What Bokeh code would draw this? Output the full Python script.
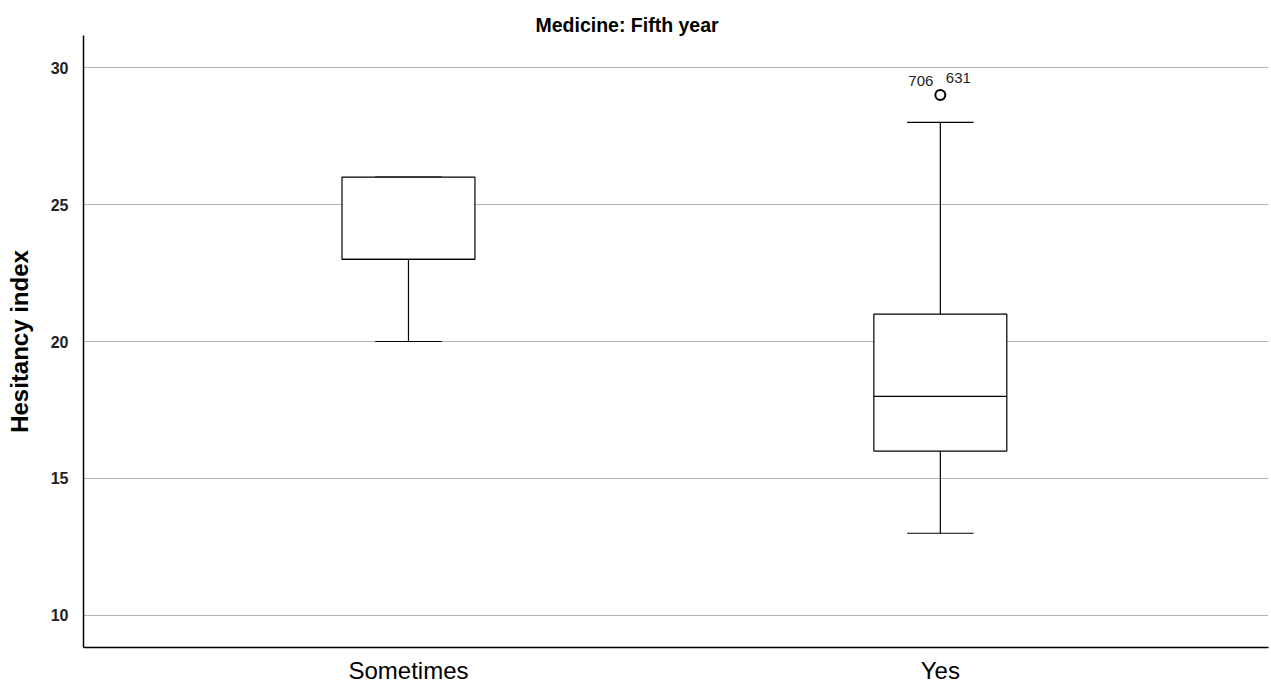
from bokeh.plotting import figure
from bokeh.models import Range1d, FixedTicker, Title
from bokeh.core.properties import value
from bokeh.embed import file_html
from bokeh.resources import INLINE

# Data
categories = ["Sometimes", "Yes"]
positions = [0, 1]
lower_whisker = [20, 13]
q1 = [23, 16]
median = [23, 18]
q3 = [26, 21]
upper_whisker = [26, 28]
outlier_cat = [1, 1]
outlier_vals = [29, 29]
outlier_ids = ["706", "631"]
y_ticks = [10, 15, 20, 25, 30]

FONT = "Liberation Sans"
box_w = 0.25
cap_w = 0.125

p = figure(width=1271, height=689, output_backend="svg", toolbar_location=None,
           x_range=Range1d(-0.611, 1.617), y_range=Range1d(8.83, 31.17),
           min_border_left=83, min_border_right=3, min_border_top=35, min_border_bottom=42)
p.outline_line_color = None
p.background_fill_color = "white"
p.border_fill_color = "white"

t = Title(text="Medicine: Fifth year", align="left", offset=452, text_font=FONT,
          text_font_size="19.5px", text_font_style="bold", text_color="black",
          standoff=0)
p.add_layout(t, "above")

# grid
p.xgrid.grid_line_color = None
p.ygrid.ticker = FixedTicker(ticks=y_ticks)
p.ygrid.grid_line_color = "#b4b4b4"
p.ygrid.grid_line_width = 1

# axes
p.yaxis.ticker = FixedTicker(ticks=y_ticks)
p.yaxis.axis_label = "Hesitancy index"
p.yaxis.axis_label_text_font = FONT
p.yaxis.axis_label_text_font_size = "24px"
p.yaxis.axis_label_text_font_style = "bold"
p.yaxis.axis_label_text_color = "black"
p.yaxis.axis_label_standoff = 15
p.yaxis.major_label_text_font = FONT
p.yaxis.major_label_text_font_size = "16px"
p.yaxis.major_label_text_font_style = "bold"
p.yaxis.major_label_text_color = "#222222"
p.yaxis.major_label_standoff = 9
p.yaxis.major_tick_line_color = None
p.yaxis.minor_tick_line_color = None
p.yaxis.axis_line_color = "black"
p.yaxis.axis_line_width = 1.5

p.xaxis.ticker = FixedTicker(ticks=positions)
p.xaxis.major_label_overrides = {pos: c for pos, c in zip(positions, categories)}
p.xaxis.major_label_text_font = FONT
p.xaxis.major_label_text_font_size = "24px"
p.xaxis.major_label_text_color = "black"
p.xaxis.major_label_standoff = 3
p.xaxis.major_tick_line_color = None
p.xaxis.minor_tick_line_color = None
p.xaxis.axis_line_color = "black"
p.xaxis.axis_line_width = 1.5

# whiskers
p.segment(x0=positions, x1=positions, y0=q3, y1=upper_whisker, line_color="black", line_width=1.2)
p.segment(x0=positions, x1=positions, y0=q1, y1=lower_whisker, line_color="black", line_width=1.2)
# caps
p.segment(x0=[x - cap_w / 2 for x in positions], x1=[x + cap_w / 2 for x in positions],
          y0=upper_whisker, y1=upper_whisker, line_color="black", line_width=1.2)
p.segment(x0=[x - cap_w / 2 for x in positions], x1=[x + cap_w / 2 for x in positions],
          y0=lower_whisker, y1=lower_whisker, line_color="black", line_width=1.2)
# boxes
p.vbar(x=positions, width=box_w, top=q3, bottom=q1, fill_color="white",
       line_color="black", line_width=1.2)
# medians
p.segment(x0=[x - box_w / 2 for x in positions], x1=[x + box_w / 2 for x in positions],
          y0=median, y1=median, line_color="black", line_width=1.2)

# outliers
p.scatter(x=outlier_cat[:1], y=outlier_vals[:1], size=10, marker="circle",
          fill_color="white", line_color="black", line_width=2)
p.text(x=outlier_cat[:1], y=outlier_vals[:1], text=outlier_ids[:1], x_offset=-19.5, y_offset=-14,
       text_font=value(FONT), text_font_size="15px", text_align="center",
       text_baseline="middle", text_color="#222222")
p.text(x=outlier_cat[1:], y=outlier_vals[1:], text=outlier_ids[1:], x_offset=18, y_offset=-17,
       text_font=value(FONT), text_font_size="15px", text_align="center",
       text_baseline="middle", text_color="#222222")

open("out.html", "w").write(file_html(p, INLINE))
